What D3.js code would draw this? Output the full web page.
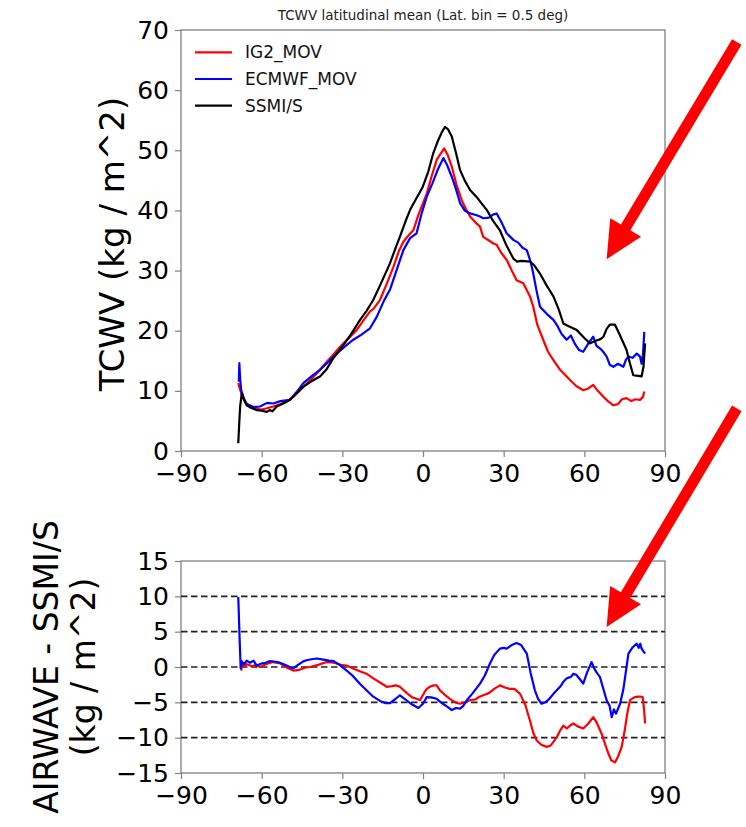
<!DOCTYPE html>
<html>
<head>
<meta charset="utf-8">
<script src="https://cdn.jsdelivr.net/npm/d3@7"></script>
<style>
  body { margin: 0; background: #fff; }
  text { font-family: 'DejaVu Sans', sans-serif; }
</style>
</head>
<body>
<div id="chart"></div>
<script>
// top panel: TCWV latitudinal mean (kg / m^2)
const ig2Lat = [-68.7, -68.2, -67.6, -66.5, -65, -62, -60, -58, -55.7, -53, -50.7, -48, -45.7, -42.5, -39.5, -36, -33, -30.9, -28, -24.7, -22, -19.7, -18.5, -16, -13.5, -11, -9, -7.3, -5.5, -3.6, -1.5, 1.4, 3.3, 5.1, 6.5, 7.9, 9.2, 10.7, 12.5, 14.4, 16, 17.5, 20, 21.2, 22.4, 24.5, 26.2, 27.4, 29, 31.1, 33, 34.8, 37.3, 39.8, 41, 42.5, 44.7, 46.5, 48.5, 51, 54.7, 57, 59.6, 61.5, 63.3, 65, 67.1, 69, 70.8, 72.5, 74, 75.7, 77.5, 79, 80.7, 81.8, 82.3]
const ig2Val = [11.3, 10.5, 9.6, 8.4, 7.6, 7.0, 6.9, 7.1, 7.4, 7.8, 8.2, 9.1, 10.1, 11.5, 12.9, 14.7, 16.2, 17.3, 18.6, 20.1, 21.8, 23.2, 23.6, 25.1, 27.8, 30.6, 33.2, 34.8, 35.8, 36.7, 39.5, 42.8, 45.8, 48.4, 49.4, 50.3, 49.2, 47.3, 44.2, 41.7, 40.2, 39, 37.8, 37.3, 35.6, 35, 34.5, 34.3, 33, 31.8, 30, 28.4, 27.9, 25.7, 24, 21, 18.5, 16.5, 15.1, 13.5, 11.8, 10.8, 10.1, 10.4, 11, 10, 9, 8.2, 7.6, 7.8, 8.6, 8.8, 8.3, 8.6, 8.5, 9, 9.9]

const ecmwfLat = [-68.5, -68.3, -68.0, -67.6, -66.5, -65.6, -63, -60.6, -58, -55.7, -53, -49.5, -47, -44.5, -41.5, -38.3, -35, -32.1, -29, -25.9, -23, -19.7, -17.2, -14.5, -12.3, -9.5, -7.3, -4.8, -2.4, -0.5, 1.4, 3.5, 5.5, 7.6, 9, 10.7, 12.3, 13.8, 15.5, 17.5, 20, 21.2, 22.4, 24.5, 26, 27.4, 29, 31.1, 33.6, 35.5, 37, 38.6, 40, 41, 42.3, 43.5, 46, 48.5, 50, 51.5, 53.4, 55, 56.5, 58, 59.6, 61.5, 63.3, 64.5, 66, 67, 68.3, 69.5, 70.8, 72.5, 74.5, 75.5, 76.4, 78, 79.5, 80.7, 81.3, 81.8, 82.3]
const ecmwfVal = [11.5, 14.6, 12, 10.1, 8.6, 7.8, 7.3, 7.4, 8, 7.9, 8.3, 8.5, 9.8, 11.3, 12.4, 13.5, 14.9, 16.2, 17.4, 18.5, 19.3, 20.4, 22.3, 25, 26.8, 30.5, 33.4, 35.4, 36.2, 39.5, 42.3, 44.5, 46.8, 48.7, 47.5, 45.6, 43.5, 41.2, 40, 39.5, 39.2, 39, 38.7, 38.8, 39.3, 39.5, 38.2, 36.2, 35.1, 34.6, 33.8, 33.4, 31.5, 29.5, 26.5, 24, 22.8, 21.8, 20.8, 19.5, 18.5, 19.2, 17.8, 16.8, 16.5, 17.9, 19, 17.5, 17, 16.5, 15.7, 14.3, 14, 14.5, 14, 15.2, 15.7, 15.5, 16.2, 15.7, 14.5, 16, 19.8]

const ssmiLat = [-68.7, -68.3, -68.0, -67.4, -66.5, -65.6, -64, -61.9, -60, -58.1, -57, -56, -54.4, -52, -49.5, -47, -44.5, -41.5, -38.3, -36, -33.4, -31.5, -29.6, -26.5, -23.4, -21, -18.5, -15.5, -12.3, -10, -8.6, -6.5, -4.8, -2.5, -0.1, 2, 3.8, 5.5, 7, 8.2, 9.3, 10.7, 12.3, 13.8, 15.5, 17.5, 20, 21.2, 23.7, 26, 28.6, 31, 33.6, 35, 36.5, 39.8, 41.5, 43.5, 46, 48.5, 50.5, 52.2, 54, 57.2, 60, 62.1, 64, 66, 67.1, 68.3, 69.5, 71.4, 73, 74.5, 75.7, 77, 78.2, 80, 81.3, 82, 82.6]
const ssmiVal = [1.3, 5, 7.4, 9.6, 8.5, 7.6, 7.2, 6.8, 6.7, 6.5, 6.8, 6.6, 7.4, 7.9, 8.5, 9.6, 10.7, 11.6, 12.4, 13.5, 15.4, 16.5, 17.6, 19.6, 21.8, 23.3, 25.1, 28, 31.2, 34, 35.6, 38.2, 40.1, 42, 43.9, 46.5, 49.5, 51.5, 53, 53.9, 53.5, 52.3, 49.5, 46.7, 45, 43.4, 42.2, 41.5, 40.1, 38.3, 36.7, 34.2, 32, 31.5, 31.6, 31.5, 30.8, 29.5, 27.5, 25.7, 23.5, 21.2, 20.8, 20.1, 18.8, 17.9, 18.3, 18.6, 19, 20.3, 21, 21, 19.5, 18, 16.8, 14.5, 12.6, 12.5, 12.4, 14, 17.9]

// bottom panel: AIRWAVE - SSMI/S differences
const ig2DiffLat = [-67.6, -67.2, -66.5, -65.5, -63.5, -62, -60.6, -58.5, -55.7, -53, -50.5, -48.2, -46, -44, -42, -39, -35.8, -33, -30.5, -28.4, -26, -23.5, -21, -18.5, -16, -13.5, -11.5, -10, -8.6, -6, -4, -2.4, -1.1, 0.5, 1.4, 2.6, 3.9, 5.1, 6.3, 8, 10, 12, 13.8, 15.5, 17.5, 19.5, 21, 22.4, 24.5, 26.5, 28.6, 30.5, 32.3, 34, 36.1, 38, 39.8, 41, 42.3, 44, 46, 47.5, 48.5, 49.8, 51, 52.2, 53.5, 55, 55.9, 57.5, 59.6, 61.5, 63.3, 64.5, 66.4, 67.8, 68.9, 70, 71.4, 72.5, 73.9, 75, 76, 77, 78.5, 80, 80.7, 81.7, 82.2, 82.6]
const ig2DiffVal = [-0.5, 0.6, 0.1, 0.4, 0.1, 0.3, 0, 0.4, 0.7, 0.5, -0.1, -0.5, -0.4, -0.1, 0, 0.3, 0.7, 0.6, 0.3, 0.2, -0.2, -0.6, -0.95, -1.6, -2.2, -2.8, -2.7, -2.6, -2.8, -3.7, -4.3, -4.5, -4.7, -3.6, -3.1, -2.8, -2.6, -2.6, -3.3, -3.9, -4.5, -5.0, -5.2, -5.0, -4.7, -4.6, -4.2, -4.0, -3.7, -3.1, -2.6, -2.9, -3.1, -3.1, -3.8, -5.3, -7.6, -9.3, -10.4, -11, -11.3, -11.1, -10.6, -9.9, -9.0, -8.3, -8.7, -8.2, -8.0, -8.4, -8.7, -8, -7.1, -7.8, -9.4, -11, -12.2, -13.2, -13.5, -12.7, -11.3, -9, -6.5, -4.7, -4.3, -4.2, -4.2, -4.25, -6, -8]

const ecmwfDiffLat = [-68.7, -68.2, -67.8, -67.4, -66.5, -65.6, -64.3, -63, -61.9, -60, -58.5, -56.9, -54, -52.5, -50.7, -49, -48.2, -46.5, -44.5, -43.3, -41.5, -39.5, -37, -35, -33.4, -31, -28.4, -26, -23.4, -21, -18.5, -16, -14, -12.3, -10.5, -8.6, -6.5, -4.5, -1.7, 0, 1.4, 3, 5.1, 7, 9, 10.7, 12.3, 13.8, 15, 16.3, 18.5, 21.2, 23, 24.9, 26.5, 28.6, 30, 31.1, 33, 34.8, 36.5, 38.6, 40, 41.6, 42.8, 44.1, 45.5, 47, 48.5, 50, 51, 52.2, 53.5, 55, 55.9, 57, 58.5, 59.6, 61, 62.7, 63.8, 65, 65.8, 67, 68.3, 69.4, 70.2, 71, 71.8, 73.3, 74.5, 75.5, 76.4, 78, 79.5, 80.2, 80.8, 81.3, 82, 82.6]
const ecmwfDiffVal = [9.9, 4, -0.2, 0.8, 0.4, 0.9, 0.6, 0.9, 0.2, 0.5, 0.6, 0.85, 0.7, 0.5, 0.2, -0.1, -0.2, 0.3, 0.8, 0.95, 1.1, 1.2, 1.05, 0.9, 0.85, 0.3, -0.5, -1.3, -2.4, -3.3, -4.2, -4.8, -5.1, -5.1, -4.6, -4.0, -4.6, -5.2, -5.8, -5.2, -4.25, -4.3, -4.5, -5.1, -5.6, -6.1, -5.8, -5.9, -5.5, -4.7, -3.7, -2.35, -1.2, 0.5, 1.7, 2.6, 2.7, 2.6, 3.1, 3.4, 3.1, 1.9, -0.8, -3.3, -4.5, -5.2, -5, -4.5, -3.8, -3.2, -2.8, -2.1, -1.6, -1.4, -0.95, -1.1, -1.8, -2.35, -0.8, 0.7, -0.3, -1.0, -1.4, -3, -4.7, -5.5, -7.1, -6.0, -6.6, -5.2, -3.2, -0.5, 1.9, 2.8, 3.3, 2.7, 3.3, 2.6, 2.2, 1.9]

const seriesNames = ['IG2_MOV', 'ECMWF_MOV', 'SSMI/S']
const xTicks = [-90, -60, -30, 0, 30, 60, 90]
const topTicks = [0, 10, 20, 30, 40, 50, 60, 70]
const bottomTicks = [-15, -10, -5, 0, 5, 10, 15]
const dashedLevels = [-10, -5, 0, 5, 10]
// arrows as [tailLat, tailValue, tipLat, tipValue]
const topArrow = [116.7, 68, 68.3, 31.9]
const bottomArrow = [116.7, 36.6, 68.3, 5.67]

const width = 746
const height = 827
const colors = ['#ff0000', '#0000ff', '#000000']
const frameColor = '#808080'

const svg = d3.select('#chart')
  .append('svg')
  .attr('width', width)
  .attr('height', height)

svg.append('rect')
  .attr('width', width)
  .attr('height', height)
  .attr('fill', '#fff')

const x = d3.scaleLinear().domain([-90, 90]).range([181, 665])
const yTop = d3.scaleLinear().domain([0, 70]).range([451, 30])
const yBot = d3.scaleLinear().domain([-15, 15]).range([773, 561])

const styleAxis = g => {
  g.select('.domain').remove()
  g.selectAll('.tick line').attr('stroke', frameColor).attr('stroke-width', 1.2)
  g.selectAll('.tick text')
    .attr('fill', '#000')
    .attr('font-size', '25px')
    .attr('font-family', 'DejaVu Sans, sans-serif')
}

const drawPanel = (yScale, ticks) => {
  const [y0, y1] = yScale.range()
  svg.append('g')
    .attr('transform', `translate(0,${y0})`)
    .call(d3.axisBottom(x).tickValues(xTicks).tickSize(6).tickPadding(7))
    .call(styleAxis)
  svg.append('g')
    .attr('transform', `translate(${x.range()[0]},0)`)
    .call(d3.axisLeft(yScale).tickValues(ticks).tickSize(6).tickPadding(6))
    .call(styleAxis)
  svg.append('rect')
    .attr('x', x.range()[0])
    .attr('y', y1)
    .attr('width', x.range()[1] - x.range()[0])
    .attr('height', y0 - y1)
    .attr('fill', 'none')
    .attr('stroke', frameColor)
    .attr('stroke-width', 1.3)
}

const drawLine = (yScale, lats, vals, color) => {
  const line = d3.line()
    .x(d => x(d[0]))
    .y(d => yScale(d[1]))
  svg.append('path')
    .datum(d3.zip(lats, vals))
    .attr('d', line)
    .attr('fill', 'none')
    .attr('stroke', color)
    .attr('stroke-width', 2.2)
    .attr('stroke-linejoin', 'round')
}

// top panel
drawPanel(yTop, topTicks)
drawLine(yTop, ig2Lat, ig2Val, colors[0])
drawLine(yTop, ecmwfLat, ecmwfVal, colors[1])
drawLine(yTop, ssmiLat, ssmiVal, colors[2])

svg.append('text')
  .attr('x', 423)
  .attr('y', 20)
  .attr('text-anchor', 'middle')
  .attr('font-size', '13.5px')
  .attr('fill', '#222')
  .text('TCWV latitudinal mean (Lat. bin = 0.5 deg)')

svg.append('text')
  .attr('transform', 'translate(124,244) rotate(-90)')
  .attr('text-anchor', 'middle')
  .attr('font-size', '34px')
  .attr('fill', '#000')
  .text('TCWV (kg / m^2)')

const legend = svg.selectAll('.legend')
  .data(seriesNames)
  .enter()
  .append('g')
  .attr('class', 'legend')
  .attr('transform', (d, i) => `translate(195,${52.3 + i * 26.7})`)

legend.append('line')
  .attr('x1', 0)
  .attr('x2', 37)
  .attr('stroke', (d, i) => colors[i])
  .attr('stroke-width', 2.2)

legend.append('text')
  .attr('x', 50)
  .attr('dy', '0.36em')
  .attr('font-size', '17px')
  .attr('fill', '#111')
  .text(d => d)

// bottom panel
drawPanel(yBot, bottomTicks)

svg.append('g')
  .selectAll('line')
  .data(dashedLevels)
  .enter()
  .append('line')
  .attr('x1', x.range()[0])
  .attr('x2', x.range()[1])
  .attr('y1', d => yBot(d))
  .attr('y2', d => yBot(d))
  .attr('stroke', '#222')
  .attr('stroke-width', 1.6)
  .attr('stroke-dasharray', '6.5,3.5')

drawLine(yBot, ig2DiffLat, ig2DiffVal, colors[0])
drawLine(yBot, ecmwfDiffLat, ecmwfDiffVal, colors[1])

svg.append('text')
  .attr('transform', `translate(58,${yBot(0)}) rotate(-90)`)
  .attr('text-anchor', 'middle')
  .attr('font-size', '33px')
  .attr('fill', '#000')
  .text('AIRWAVE - SSMI/S')

svg.append('text')
  .attr('transform', `translate(95,${yBot(0)}) rotate(-90)`)
  .attr('text-anchor', 'middle')
  .attr('font-size', '33px')
  .attr('fill', '#000')
  .text('(kg / m^2)')

// red annotation arrows
const drawArrow = (yScale, a) => {
  const tail = [x(a[0]), yScale(a[1])]
  const tip = [x(a[2]), yScale(a[3])]
  const dx = tip[0] - tail[0]
  const dy = tip[1] - tail[1]
  const len = Math.hypot(dx, dy)
  const u = [dx / len, dy / len]
  const n = [-u[1], u[0]]
  const shaft = 5.5
  const headLen = 37
  const headHalf = 18
  const base = [tip[0] - u[0] * headLen, tip[1] - u[1] * headLen]
  const pt = (p, k) => [p[0] + n[0] * k, p[1] + n[1] * k]
  const points = [
    pt(tail, shaft), pt(base, shaft), pt(base, headHalf), tip,
    pt(base, -headHalf), pt(base, -shaft), pt(tail, -shaft)
  ]
  svg.append('polygon')
    .attr('points', points.map(p => p.join(',')).join(' '))
    .attr('fill', '#ff0000')
}

drawArrow(yTop, topArrow)
drawArrow(yBot, bottomArrow)
</script>
</body>
</html>
